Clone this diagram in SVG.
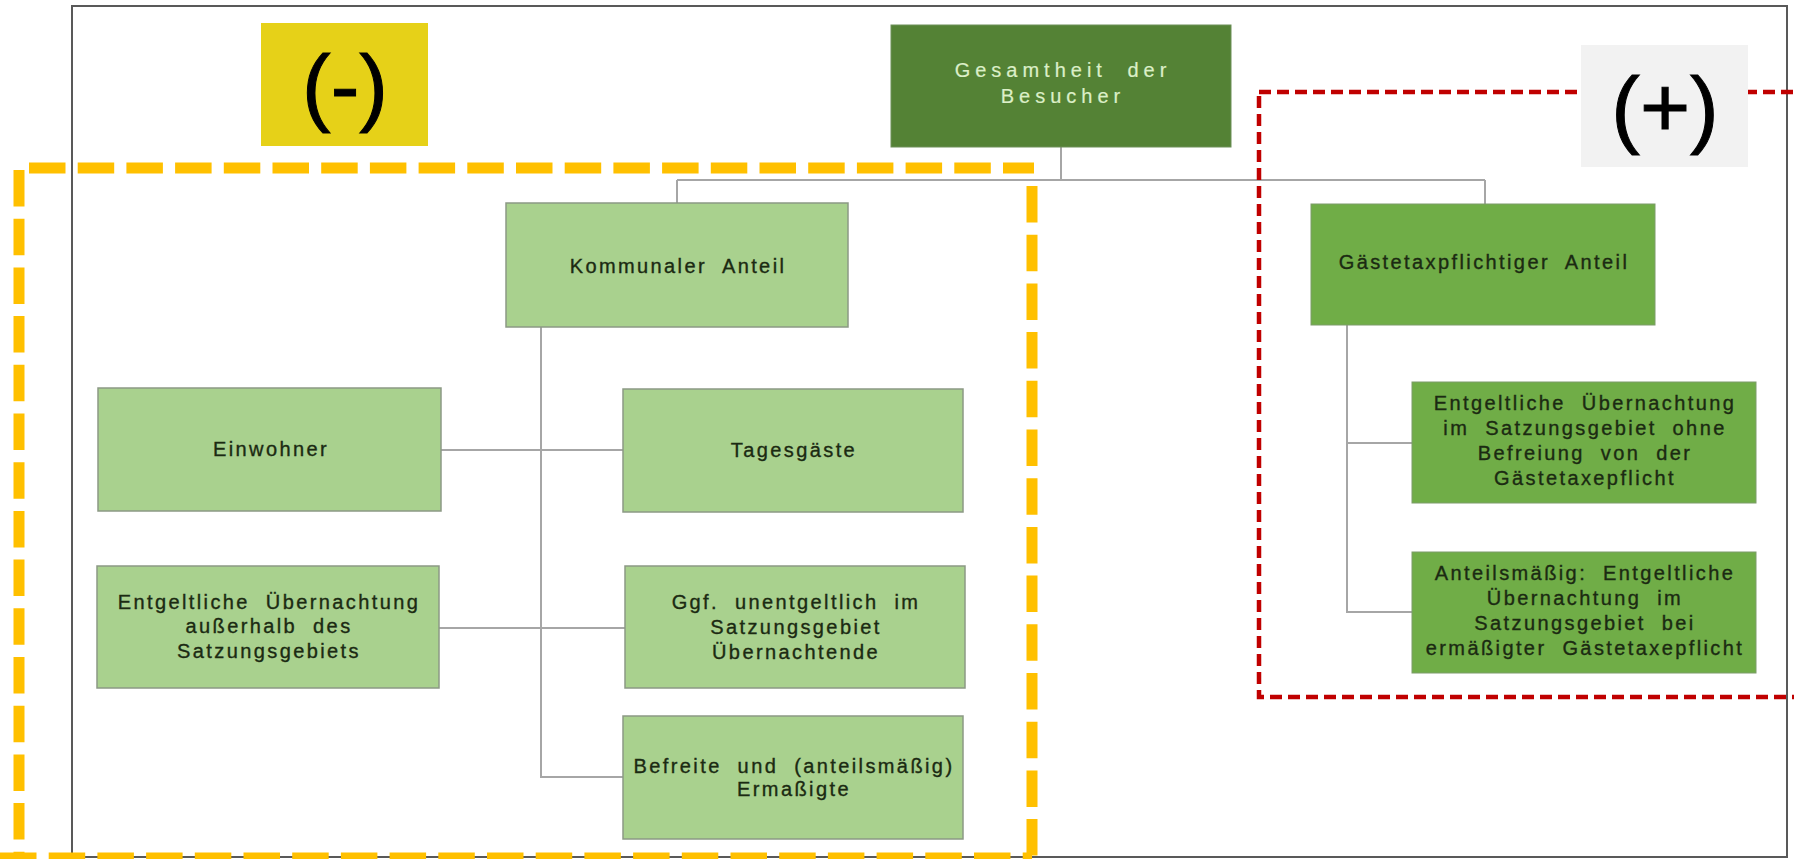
<svg xmlns="http://www.w3.org/2000/svg" width="1794" height="859" viewBox="0 0 1794 859">
<style>
.lbl{font-family:"Liberation Sans",Arial,sans-serif;font-size:20px;letter-spacing:2.4px;word-spacing:8px;fill:#1b2a12;stroke:#1b2a12;stroke-width:0.35;text-anchor:middle}
.top{fill:#dcefc8;stroke:#dcefc8;stroke-width:0.2;letter-spacing:5px;word-spacing:10px}
.light{fill:#a9d18e;stroke:#8c9985;stroke-width:1.5}
.mid{fill:#70ad47;stroke:#7d9c6a;stroke-width:1}
.dark{fill:#548235;stroke:#6d8f58;stroke-width:1}
.conn{stroke:#a6a6a6;stroke-width:2;fill:none}
.yel{fill:none;stroke:#ffc000;stroke-width:11;stroke-dasharray:36.5 12.2}
.sign{font-family:"Liberation Sans",Arial,sans-serif;font-size:86px;fill:#000;stroke:#000;stroke-width:1;text-anchor:middle}
</style>
<rect x="0" y="0" width="1794" height="859" fill="#ffffff"/>
<rect id="frame" x="72" y="6" width="1715" height="851" fill="none" stroke="#595959" stroke-width="2"/>
<g id="connectors">
<path class="conn" d="M1061 147V180M677 180H1485M677 180V203M1485 180V204"/>
<path class="conn" d="M541 327V777H623M441 450H623M439 628H625"/>
<path class="conn" d="M1347 325V612H1412M1347 443H1412"/>
</g>
<g id="n-top"><rect class="dark" x="891" y="25" width="340" height="122"/>
<text class="lbl top" x="1063" y="77">Gesamtheit der</text><text class="lbl top" x="1063" y="103">Besucher</text></g>
<g id="n-komm"><rect class="light" x="506" y="203" width="342" height="124"/>
<text class="lbl" x="678" y="273">Kommunaler Anteil</text></g>
<g id="n-einw"><rect class="light" x="98" y="388" width="343" height="123"/>
<text class="lbl" x="271" y="456">Einwohner</text></g>
<g id="n-tages"><rect class="light" x="623" y="389" width="340" height="123"/>
<text class="lbl" x="794" y="457">Tagesgäste</text></g>
<g id="n-ausser"><rect class="light" x="97" y="566" width="342" height="122"/>
<text class="lbl" x="269" y="609">Entgeltliche Übernachtung</text>
<text class="lbl" x="269" y="633">außerhalb des</text>
<text class="lbl" x="269" y="658">Satzungsgebiets</text></g>
<g id="n-ggf"><rect class="light" x="625" y="566" width="340" height="122"/>
<text class="lbl" x="796" y="609">Ggf. unentgeltlich im</text>
<text class="lbl" x="796" y="634">Satzungsgebiet</text>
<text class="lbl" x="796" y="659">Übernachtende</text></g>
<g id="n-befreit"><rect class="light" x="623" y="716" width="340" height="123"/>
<text class="lbl" x="794" y="773">Befreite und (anteilsmäßig)</text>
<text class="lbl" x="794" y="796">Ermaßigte</text></g>
<g id="n-gaeste"><rect class="mid" x="1311" y="204" width="344" height="121"/>
<text class="lbl" x="1484" y="269">Gästetaxpflichtiger Anteil</text></g>
<g id="n-ohne"><rect class="mid" x="1412" y="382" width="344" height="121"/>
<text class="lbl" x="1585" y="410">Entgeltliche Übernachtung</text>
<text class="lbl" x="1585" y="435">im Satzungsgebiet ohne</text>
<text class="lbl" x="1585" y="460">Befreiung von der</text>
<text class="lbl" x="1585" y="485">Gästetaxepflicht</text></g>
<g id="n-erm"><rect class="mid" x="1412" y="552" width="344" height="121"/>
<text class="lbl" x="1585" y="580">Anteilsmäßig: Entgeltliche</text>
<text class="lbl" x="1585" y="605">Übernachtung im</text>
<text class="lbl" x="1585" y="630">Satzungsgebiet bei</text>
<text class="lbl" x="1585" y="655">ermäßigter Gästetaxepflicht</text></g>
<g id="minus-area">
<path class="yel" d="M29 168H1034"/>
<path class="yel" d="M1032 186V858"/>
<path class="yel" d="M19 170V858"/>
<path class="yel" d="M0 858H1032"/>
</g>
<rect id="plus-area" x="1259" y="92" width="600" height="605" fill="none" stroke="#c00000" stroke-width="4.5" stroke-dasharray="12 6"/>
<g id="minus-label"><rect x="261" y="23" width="167" height="123" fill="#e6d118"/>
<text class="sign" x="345" y="115">(-)</text></g>
<g id="plus-label"><rect x="1581" y="45" width="167" height="122" fill="#f2f2f2"/>
<text class="sign" x="1665" y="137">(+)</text></g>
</svg>
